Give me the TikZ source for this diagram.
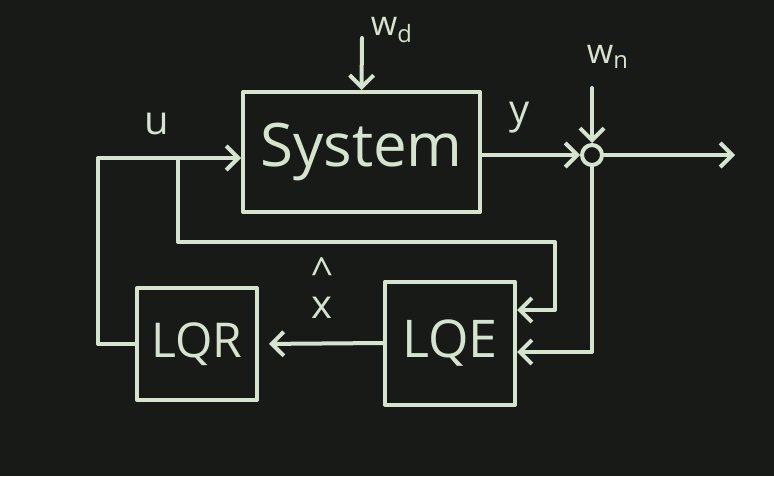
\documentclass[tikz,border=0pt]{standalone}
\usepackage{fontspec}
\setmainfont{Open Sans}
\usetikzlibrary{arrows.meta}
\definecolor{board}{HTML}{181A18}
\definecolor{chalk}{HTML}{D6E4CF}
\begin{document}
\begin{tikzpicture}[x=0.5pt,y=-0.5pt,
  chalkline/.style={draw=chalk,line width=2pt,line cap=round,line join=round},
  arr/.style={chalkline,-{Straight Barb[length=6pt,width=12pt,line width=2pt]}},
  blk/.style={chalkline,rectangle,text=chalk,inner sep=0pt},
  lbl/.style={text=chalk,inner sep=0pt}]
\fill[board] (0,0) rectangle (774,476);
\useasboundingbox (0,0) rectangle (774,476);
% blocks
\node[blk,minimum width=118.5pt,minimum height=60pt,font=\fontsize{30}{34}\selectfont] (sys) at (361.5,152) {System};
\node[blk,minimum width=65pt,minimum height=61.5pt,font=\fontsize{26}{30}\selectfont] (lqe) at (450,343) {LQE};
\node[blk,minimum width=60pt,minimum height=56pt,font=\fontsize{24}{28}\selectfont] (lqr) at (197,344) {LQR};
\node[chalkline,circle,minimum size=10pt,inner sep=0pt] (sum) at (592,155) {};
% coordinates
\coordinate (wdtop) at (362,38);
\coordinate (wntop) at (592,88);
\coordinate (out) at (735,155);
\coordinate (L2) at (98,158);
\coordinate (B) at (178,158);
\coordinate (B2) at (178,242);
\coordinate (C1) at (555,242);
\coordinate (C2) at (555,310);
\coordinate (D) at (598,352);
% connectors
\draw[arr] (wdtop) -- (sys.north);
\draw[arr] (wntop) -- (sum.north);
\draw[arr] (sys.east |- sum) -- (sum.west);
\draw[arr] (sum.east) -- (out);
\draw[arr] (lqr.west) -| (L2) -- (sys.west |- L2);
\draw[arr] (B) -- (B2) -- (C1) -- (C2) -- (lqe.east |- C2);
\draw[arr] (sum.south) -- (sum.south |- D) -- (lqe.east |- D);
\draw[arr,shorten >=5pt] (lqe.west) -- (lqr.east);
% labels
\node[lbl,font=\fontsize{17}{20}\selectfont] (wd) at (392,30) {w\textsubscript{d}};
\node[lbl,font=\fontsize{17}{20}\selectfont] (wn) at (608,57) {w\textsubscript{n}};
\node[lbl,font=\fontsize{20}{24}\selectfont] (u) at (157,124) {u};
\node[lbl,font=\fontsize{20}{24}\selectfont] (y) at (520,118) {y};
\node[lbl,font=\fontsize{20}{24}\selectfont] (xh) at (322,308) {\ooalign{x\cr\hidewidth\raisebox{0.8em}{\textasciicircum}\hidewidth\cr}};
\end{tikzpicture}
\end{document}
